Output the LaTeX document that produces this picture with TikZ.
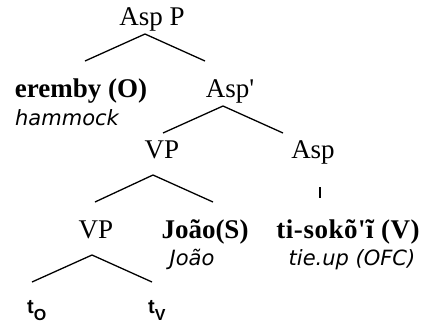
\documentclass[tikz,border=0pt]{standalone}
\usepackage{fontspec}
\setmainfont{Liberation Serif}[Ligatures=TeXOff]
\newfontfamily\glossfont{DejaVu Sans}
\newfontfamily\trfont{Liberation Sans}
\begin{document}
\begin{tikzpicture}[x=1pt,y=-1pt,
  lbl/.style={inner sep=0pt,anchor=base,font=\fontsize{27}{30}\selectfont},
  blbl/.style={lbl,font=\fontsize{27}{30}\selectfont\bfseries},
  gloss/.style={inner sep=0pt,anchor=base,font=\fontsize{21}{24}\glossfont\itshape},
  trace/.style={inner sep=0pt,anchor=base west,font=\fontsize{20}{22}\trfont\bfseries},
  branch/.style={line width=1.3pt}]
\useasboundingbox (0,0) rectangle (434,327);
% labels
\node[lbl] (aspP) at (152,25) {Asp P};
\node[blbl] (erem) at (81,97) {eremby (O)};
\node[lbl] (aspbar) at (230,97) {Asp'};
\node[gloss] (hamm) at (67,125) {hammock};
\node[lbl] (vp1) at (162,158) {VP};
\node[lbl] (asp) at (313,158) {Asp};
\node[lbl] (vp2) at (96,238) {VP};
\node[blbl] (joao) at (205,238) {João(S)};
\node[blbl] (tisok) at (348,238) {\addfontfeature{LetterSpace=2}ti-sokõ'ĩ (V)};
\node[gloss] (gjoao) at (192,265) {João};
\node[gloss] (gtie) at (352,265) {tie.up (OFC)};
\node[trace] (to) at (27,313) {t\raisebox{-7pt}{\fontsize{16}{18}\selectfont O}};
\node[trace] (tv) at (148,313) {t\raisebox{-7pt}{\fontsize{16}{18}\selectfont V}};
% branch points
\coordinate (a0) at (145,34); \coordinate (a1) at (85,61); \coordinate (a2) at (205,61);
\coordinate (b0) at (223,106); \coordinate (b1) at (163,133); \coordinate (b2) at (283,133);
\coordinate (c0) at (153,175); \coordinate (c1) at (95,202); \coordinate (c2) at (213,202);
\coordinate (d0) at (320,187); \coordinate (d1) at (320,198);
\coordinate (e0) at (92,255); \coordinate (e1) at (32,282); \coordinate (e2) at (152,282);
\draw[branch] (a1) -- (a0) -- (a2);
\draw[branch] (b1) -- (b0) -- (b2);
\draw[branch] (c1) -- (c0) -- (c2);
\draw[branch,line width=2pt] (d0) -- (d1);
\draw[branch] (e1) -- (e0) -- (e2);
\end{tikzpicture}
\end{document}
